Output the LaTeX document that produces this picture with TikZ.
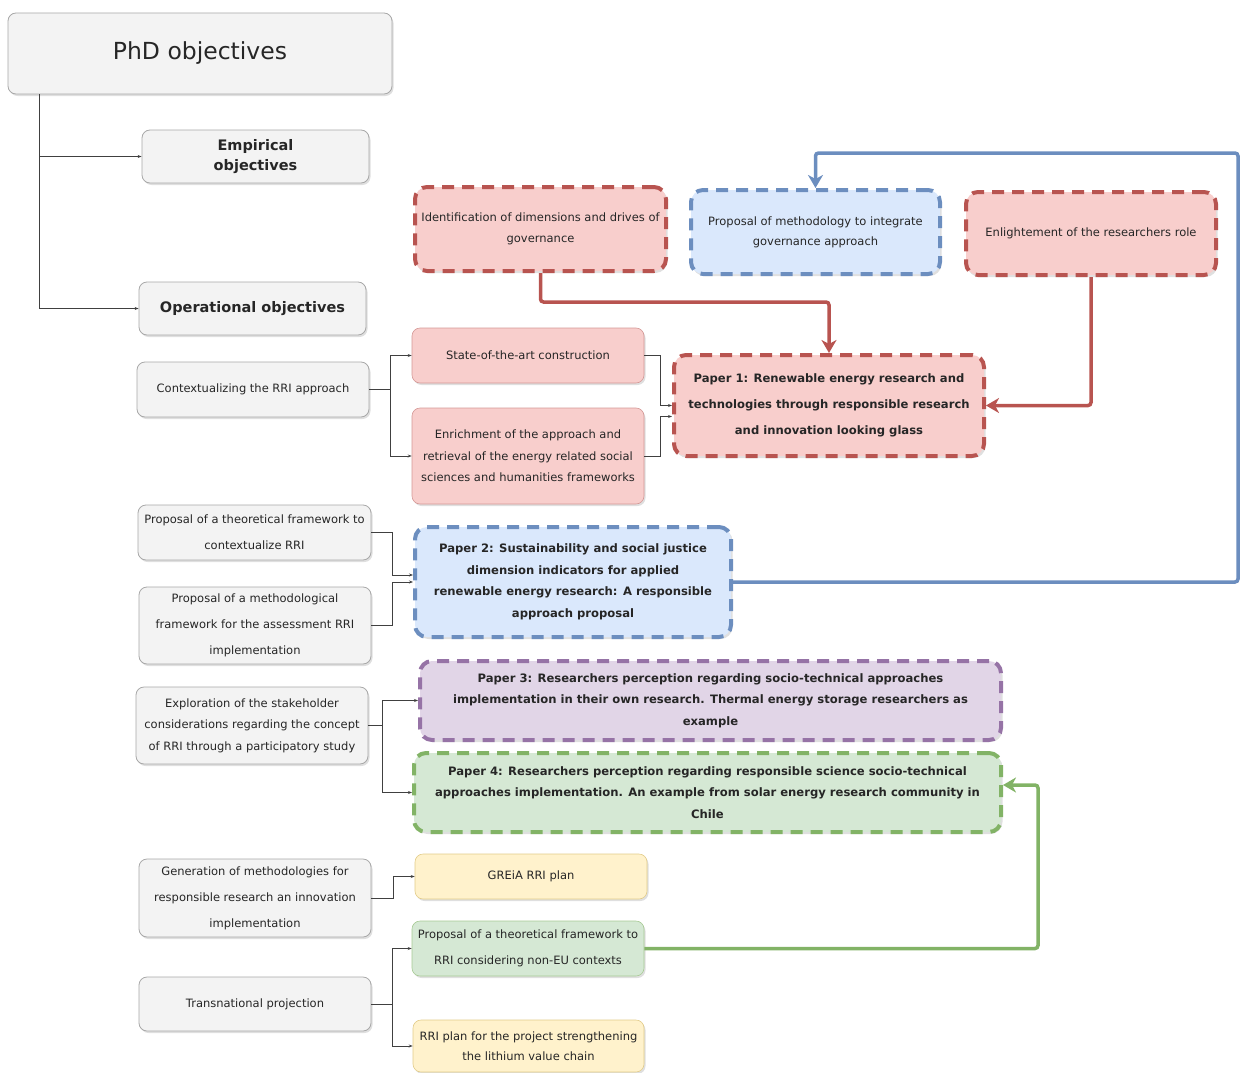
\documentclass[tikz,border=0pt]{standalone}
\usepackage{fontspec}
\setmainfont{DejaVu Sans}
\usetikzlibrary{arrows.meta, calc, shadows}
\definecolor{greyfill}{HTML}{F3F3F3}
\definecolor{greyline}{HTML}{A8A8A8}
\definecolor{redfill}{HTML}{F8CECC}
\definecolor{redline}{HTML}{B85450}
\definecolor{bluefill}{HTML}{DAE8FC}
\definecolor{blueline}{HTML}{6C8EBF}
\definecolor{purplefill}{HTML}{E1D5E7}
\definecolor{purpleline}{HTML}{9673A6}
\definecolor{greenfill}{HTML}{D5E8D4}
\definecolor{greenline}{HTML}{82B366}
\definecolor{yellowfill}{HTML}{FFF2CC}
\definecolor{yellowline}{HTML}{D6B656}

\begin{document}
\begin{tikzpicture}[x=1pt, y=-1pt, font=\fontsize{11.5}{21.5}\selectfont, text=black!85]
    \tikzstyle{box}=[rectangle, rounded corners=8pt, align=center, inner sep=2pt, drop shadow={shadow xshift=1.5pt, shadow yshift=-2pt, opacity=0.25}]
    \tikzstyle{objective}=[box, fill=greyfill, draw=greyline, line width=0.8pt]
    \tikzstyle{task}=[box, line width=0.6pt]
    \tikzstyle{paper}=[box, rounded corners=12pt, line width=4pt, dash pattern=on 12pt off 8pt, font=\fontsize{11.6}{21.5}\selectfont\bfseries]
    \tikzstyle{spaced}=[font=\fontsize{11.5}{26}\selectfont]
    \tikzstyle{conn}=[-{Stealth[length=4pt,width=3pt]}, draw=black!75, line width=0.7pt]
    \tikzstyle{link}=[-{Stealth[length=13pt,width=15pt,inset=4pt]}, line width=3.5pt, rounded corners=3pt]

    \useasboundingbox (0,0) rectangle (1240,1073);

    % objectives tree
    \node[objective, minimum width=384pt, minimum height=81pt, font=\fontsize{23.5}{28}\selectfont] (phd) at (200,53.5) {PhD objectives};
    \node[objective, minimum width=227pt, minimum height=53pt, font=\fontsize{14.5}{20}\selectfont\bfseries] (emp) at (255.5,156.5) {Empirical\\objectives};
    \node[objective, minimum width=227pt, minimum height=53pt, font=\fontsize{14.5}{20}\selectfont\bfseries] (op) at (252.5,308.5) {Operational objectives};
    \coordinate (trunk) at ([xshift=32pt]phd.south west);
    \draw[conn] (trunk) |- (emp.west);
    \draw[conn] (trunk) |- (op.west);

    % left column
    \node[objective, minimum width=232pt, minimum height=55pt] (ctx) at (253,389.5) {Contextualizing the RRI approach};
    \node[objective, spaced, minimum width=233pt, minimum height=55pt] (ptf) at (254.5,532.5) {Proposal of a theoretical framework to\\contextualize RRI};
    \node[objective, spaced, minimum width=232pt, minimum height=77pt] (pmf) at (255,625.5) {Proposal of a methodological\\framework for the assessment RRI\\implementation};
    \node[objective, minimum width=232pt, minimum height=77pt] (expl) at (252,725.5) {Exploration of the stakeholder\\considerations regarding the concept\\of RRI through a participatory study};
    \node[objective, spaced, minimum width=232pt, minimum height=78pt] (gen) at (255,898) {Generation of methodologies for\\responsible research an innovation\\implementation};
    \node[objective, minimum width=232pt, minimum height=54pt] (trans) at (255,1004) {Transnational projection};

    % middle column
    \node[task, fill=redfill, draw=redline!60, minimum width=232pt, minimum height=55pt] (soa) at (528,355.5) {State-of-the-art construction};
    \node[task, fill=redfill, draw=redline!60, minimum width=232pt, minimum height=96pt] (enr) at (528,456) {Enrichment of the approach and\\retrieval of the energy related social\\sciences and humanities frameworks};
    \node[task, fill=yellowfill, draw=yellowline!70, minimum width=232pt, minimum height=45pt] (greia) at (531,876.5) {GREiA RRI plan};
    \node[task, spaced, fill=greenfill, draw=greenline!70, minimum width=232pt, minimum height=55pt] (noneu) at (528,948.5) {Proposal of a theoretical framework to\\RRI considering non-EU contexts};
    \node[task, fill=yellowfill, draw=yellowline!70, minimum width=231pt, minimum height=52pt, font=\fontsize{11.5}{20}\selectfont] (lith) at (528.5,1046) {RRI plan for the project strengthening\\the lithium value chain};

    % dashed boxes
    \node[paper, fill=redfill, draw=redline, font=\fontsize{11.5}{21}\selectfont, minimum width=251pt, minimum height=84pt] (ident) at (540.5,229) {Identification of dimensions and drives of\\governance};
    \node[paper, fill=bluefill, draw=blueline, font=\fontsize{11.5}{20}\selectfont, minimum width=249pt, minimum height=84pt] (meth) at (815.5,232) {Proposal of methodology to integrate\\governance approach};
    \node[paper, fill=redfill, draw=redline, font=\fontsize{11.5}{21}\selectfont, minimum width=250pt, minimum height=83pt] (enl) at (1091,233.5) {Enlightement of the researchers role};
    \node[paper, fill=redfill, draw=redline, font=\fontsize{11.6}{26}\selectfont\bfseries, minimum width=310pt, minimum height=101pt] (p1) at (829,405.5) {Paper 1: Renewable energy research and\\technologies through responsible research\\and innovation looking glass};
    \node[paper, fill=bluefill, draw=blueline, minimum width=316pt, minimum height=110pt] (p2) at (573,582) {Paper 2: Sustainability and social justice\\dimension indicators for applied\\renewable energy research: A responsible\\approach proposal};
    \node[paper, fill=purplefill, draw=purpleline, minimum width=581pt, minimum height=79pt] (p3) at (710.5,700.5) {Paper 3: Researchers perception regarding socio-technical approaches\\implementation in their own research. Thermal energy storage researchers as\\example};
    \node[paper, fill=greenfill, draw=greenline, minimum width=587pt, minimum height=79pt] (p4) at (707.5,792.5) {Paper 4: Researchers perception regarding responsible science socio-technical\\approaches implementation. An example from solar energy research community in\\Chile};

    % thin connectors
    \draw[conn] (ctx.east) -- ++(21,0) |- (soa.west);
    \draw[conn] (ctx.east) -- ++(21,0) |- (enr.west);
    \draw[conn] (soa.east) -- ++(16,0) |- (p1.west);
    \draw[conn] (enr.east) -- ++(16,0) |- ($(p1.west)+(0,11)$);
    \draw[conn] (ptf.east) -- ++(21,0) |- ($(p2.west)+(0,-7)$);
    \draw[conn] (pmf.east) -- ++(21,0) |- (p2.west);
    \draw[conn] (expl.east) -- ++(14,0) |- (p3.west);
    \draw[conn] (expl.east) -- ++(14,0) |- (p4.west);
    \draw[conn] (gen.east) -- ++(22,0) |- (greia.west);
    \draw[conn] (trans.east) -- ++(21,0) |- (noneu.west);
    \draw[conn] (trans.east) -- ++(21,0) |- (lith.west);

    % thick links
    \draw[link, draw=redline] (ident.south) -- ++(0,29) -| (p1.north);
    \draw[link, draw=redline] (enl.south) |- (p1.east);
    \coordinate (bturn) at (1238,153);
    \draw[link, draw=blueline] (p2.east) -| (bturn) -| (meth.north);
    \coordinate (gturn) at (1038,785);
    \draw[link, draw=greenline] (noneu.east) -| (gturn) -- (gturn -| p4.east);
\end{tikzpicture}
\end{document}
